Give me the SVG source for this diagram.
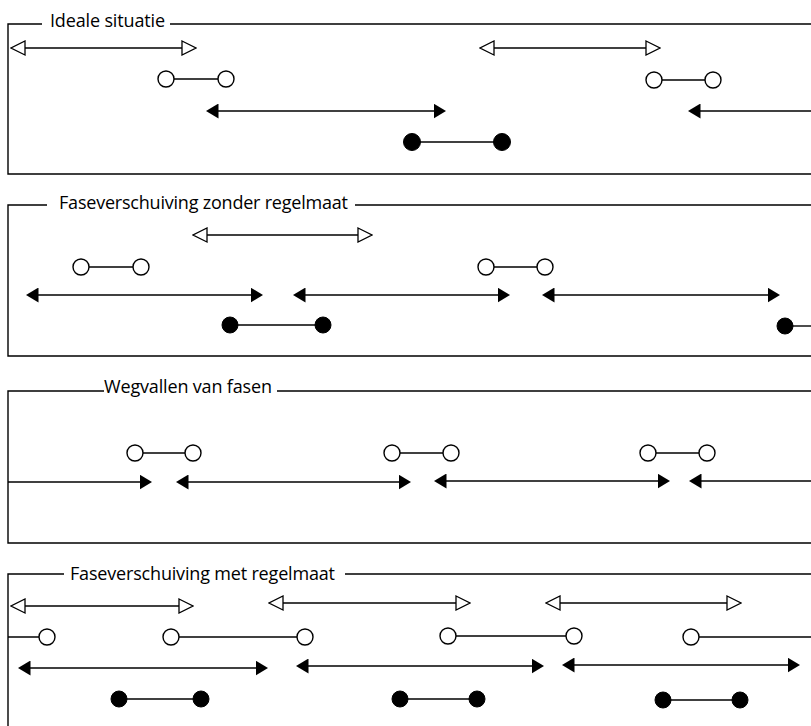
<svg xmlns="http://www.w3.org/2000/svg" width="811" height="726" viewBox="0 0 811 726">
  <style>
    .frame { fill: none; stroke: #000; stroke-width: 1.4; }
    .title { font-family: "Open Sans", "Liberation Sans", sans-serif; font-size: 18px; fill: #000; }
    .span { fill: none; stroke: #000; stroke-width: 1.4; }
    .open-arrow { marker-start: url(#headOpen); marker-end: url(#headOpen); }
    .solid-arrow { marker-start: url(#headSolid); marker-end: url(#headSolid); }
    .solid-end { marker-end: url(#headSolid); }
    .solid-start { marker-start: url(#headSolid); }
    .link { stroke: #000; stroke-width: 1.4; }
    .ring { fill: #fff; stroke: #000; stroke-width: 1.4; }
    .dot { fill: #000; stroke: #000; stroke-width: 1; }
  </style>
  <defs>
    <!-- arrowheads sit beyond the line end: refX at the base of the triangle -->
    <marker id="headOpen" markerUnits="userSpaceOnUse" viewBox="-1 -1 16 16" markerWidth="16" markerHeight="16" refX="0" refY="7" orient="auto-start-reverse">
      <path d="M0,0 L14,7 L0,14 Z" fill="#fff" stroke="#000" stroke-width="1.3"/>
    </marker>
    <marker id="headSolid" markerUnits="userSpaceOnUse" viewBox="0 0 13 15" markerWidth="13" markerHeight="15" refX="0.5" refY="7.5" orient="auto-start-reverse">
      <path d="M0,0 L12.5,7.5 L0,15 Z" fill="#000"/>
    </marker>
  </defs>

  <!-- Panel 1: Ideale situatie -->
  <g id="panel-ideaal">
    <path class="frame" d="M42,24 H8 V174 H811 M170,24 H811"/>
    <text class="title" x="50" y="27" textLength="115">Ideale situatie</text>
    <g id="p1-spans">
      <line class="span open-arrow" x1="25" y1="48" x2="182" y2="48"/>
      <line class="span open-arrow" x1="494" y1="48" x2="646" y2="48"/>
      <line class="span solid-arrow" x1="218" y1="111" x2="434" y2="111"/>
      <line class="span solid-start" x1="700" y1="111" x2="811" y2="111"/>
    </g>
    <g id="p1-rings">
      <line class="link" x1="166" y1="79" x2="226" y2="79"/>
      <circle class="ring" cx="166" cy="79" r="8"/>
      <circle class="ring" cx="226" cy="79" r="8"/>
      <line class="link" x1="654" y1="80" x2="713" y2="80"/>
      <circle class="ring" cx="654" cy="80" r="8"/>
      <circle class="ring" cx="713" cy="80" r="8"/>
    </g>
    <g id="p1-dots">
      <line class="link" x1="412" y1="142" x2="502" y2="142"/>
      <circle class="dot" cx="412" cy="142" r="8.5"/>
      <circle class="dot" cx="502" cy="142" r="8.5"/>
    </g>
  </g>

  <!-- Panel 2: Faseverschuiving zonder regelmaat -->
  <g id="panel-zonder">
    <path class="frame" d="M47,205 H8 V356 H811 M355,205 H811"/>
    <text class="title" x="59" y="209" textLength="289">Faseverschuiving zonder regelmaat</text>
    <g id="p2-spans">
      <line class="span open-arrow" x1="207" y1="235" x2="358" y2="235"/>
      <line class="span solid-arrow" x1="38" y1="295" x2="251" y2="295"/>
      <line class="span solid-arrow" x1="305" y1="295" x2="498" y2="295"/>
      <line class="span solid-arrow" x1="554" y1="295" x2="768" y2="295"/>
    </g>
    <g id="p2-rings">
      <line class="link" x1="81" y1="267" x2="141" y2="267"/>
      <circle class="ring" cx="81" cy="267" r="8"/>
      <circle class="ring" cx="141" cy="267" r="8"/>
      <line class="link" x1="486" y1="267" x2="545" y2="267"/>
      <circle class="ring" cx="486" cy="267" r="8"/>
      <circle class="ring" cx="545" cy="267" r="8"/>
    </g>
    <g id="p2-dots">
      <line class="link" x1="230" y1="325" x2="323" y2="325"/>
      <circle class="dot" cx="230" cy="325" r="8"/>
      <circle class="dot" cx="323" cy="325" r="8"/>
      <line class="link" x1="785" y1="326" x2="811" y2="326"/>
      <circle class="dot" cx="785" cy="326" r="8"/>
    </g>
  </g>

  <!-- Panel 3: Wegvallen van fasen -->
  <g id="panel-wegvallen">
    <path class="frame" d="M104,391 H8 V543 H811 M277,391 H811"/>
    <text class="title" x="104" y="393" textLength="168">Wegvallen van fasen</text>
    <g id="p3-spans">
      <line class="span solid-end" x1="8" y1="482" x2="140" y2="482"/>
      <line class="span solid-arrow" x1="188" y1="482" x2="399" y2="482"/>
      <line class="span solid-arrow" x1="446" y1="481" x2="658" y2="481"/>
      <line class="span solid-start" x1="701" y1="481" x2="811" y2="481"/>
    </g>
    <g id="p3-rings">
      <line class="link" x1="135" y1="453" x2="193" y2="453"/>
      <circle class="ring" cx="135" cy="453" r="8"/>
      <circle class="ring" cx="193" cy="453" r="8"/>
      <line class="link" x1="392" y1="453" x2="451" y2="453"/>
      <circle class="ring" cx="392" cy="453" r="8"/>
      <circle class="ring" cx="451" cy="453" r="8"/>
      <line class="link" x1="648" y1="453" x2="707" y2="453"/>
      <circle class="ring" cx="648" cy="453" r="8"/>
      <circle class="ring" cx="707" cy="453" r="8"/>
    </g>
  </g>

  <!-- Panel 4: Faseverschuiving met regelmaat -->
  <g id="panel-met">
    <path class="frame" d="M64,574 H8 V726 M345,574 H811"/>
    <text class="title" x="70" y="580" textLength="265">Faseverschuiving met regelmaat</text>
    <g id="p4-spans">
      <line class="span open-arrow" x1="25" y1="606" x2="179" y2="606"/>
      <line class="span open-arrow" x1="283" y1="603" x2="456" y2="603"/>
      <line class="span open-arrow" x1="560" y1="603" x2="727" y2="603"/>
      <line class="span solid-arrow" x1="30" y1="668" x2="256" y2="668"/>
      <line class="span solid-arrow" x1="308" y1="666" x2="532" y2="666"/>
      <line class="span solid-arrow" x1="574" y1="665" x2="788" y2="665"/>
    </g>
    <g id="p4-rings">
      <line class="link" x1="8" y1="637" x2="47" y2="637"/>
      <circle class="ring" cx="47" cy="637" r="8"/>
      <line class="link" x1="171" y1="637" x2="305" y2="637"/>
      <circle class="ring" cx="171" cy="637" r="8"/>
      <circle class="ring" cx="305" cy="637" r="8"/>
      <line class="link" x1="448" y1="636" x2="574" y2="636"/>
      <circle class="ring" cx="448" cy="636" r="8"/>
      <circle class="ring" cx="574" cy="636" r="8"/>
      <line class="link" x1="691" y1="637" x2="811" y2="637"/>
      <circle class="ring" cx="691" cy="637" r="8"/>
    </g>
    <g id="p4-dots">
      <line class="link" x1="119" y1="699" x2="201" y2="699"/>
      <circle class="dot" cx="119" cy="699" r="8"/>
      <circle class="dot" cx="201" cy="699" r="8"/>
      <line class="link" x1="400" y1="699" x2="477" y2="699"/>
      <circle class="dot" cx="400" cy="699" r="8"/>
      <circle class="dot" cx="477" cy="699" r="8"/>
      <line class="link" x1="663" y1="700" x2="740" y2="700"/>
      <circle class="dot" cx="663" cy="700" r="8"/>
      <circle class="dot" cx="740" cy="700" r="8"/>
    </g>
  </g>
</svg>
